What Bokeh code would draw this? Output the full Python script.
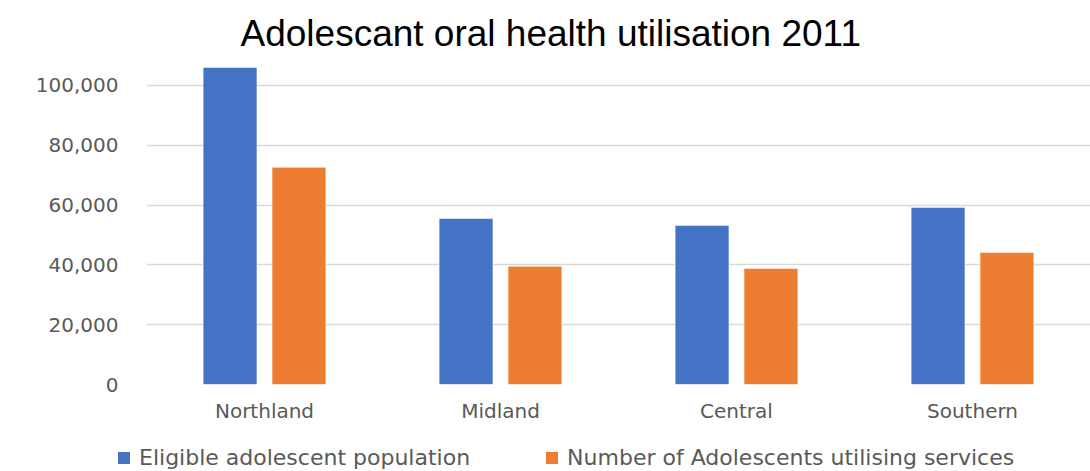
from bokeh.plotting import figure
from bokeh.layouts import column
from bokeh.models import ColumnDataSource, NumeralTickFormatter, Legend, LegendItem, Title
from bokeh.transform import dodge
from bokeh.embed import file_html
from bokeh.resources import INLINE

regions = ["Northland", "Midland", "Central", "Southern"]
eligible = [106000, 55500, 53200, 59200]
utilising = [72600, 39500, 38800, 44100]
series_names = ["Eligible adolescent population", "Number of Adolescents utilising services"]
y_ticks = [0, 20000, 40000, 60000, 80000, 100000]

blue = "#4472C4"
orange = "#ED7D31"
label_font = "DejaVu Sans"
label_color = "#595959"

source = ColumnDataSource(dict(region=regions, eligible=eligible, utilising=utilising))

p = figure(
    x_range=regions, y_range=(0, 110000),
    width=1090, height=435,
    output_backend="svg", toolbar_location=None,
    min_border_left=146, min_border_right=0, min_border_top=55, min_border_bottom=51,
)
p.frame_align = False
p.title = Title(text="Adolescant oral health utilisation 2011", align="left", offset=94,
                text_font="Liberation Sans", text_font_size="37px", text_font_style="normal",
                text_color="#000000", standoff=4)
p.x_range.range_padding = 0

p.vbar(x=dodge("region", -0.146, range=p.x_range), top="eligible", width=0.228, source=source,
       fill_color=blue, line_color="white", line_alpha=0.5, line_width=1)
p.vbar(x=dodge("region", 0.146, range=p.x_range), top="utilising", width=0.228, source=source,
       fill_color=orange, line_color="white", line_alpha=0.5, line_width=1)

p.outline_line_color = None
p.xgrid.grid_line_color = None
p.ygrid.grid_line_color = "#d9d9d9"
p.ygrid.grid_line_width = 1.5

p.yaxis.ticker = y_ticks
p.yaxis.formatter = NumeralTickFormatter(format="0,0")
for ax in (p.xaxis[0], p.yaxis[0]):
    ax.axis_line_color = None
    ax.major_tick_line_color = None
    ax.minor_tick_line_color = None
    ax.major_tick_out = 0
    ax.major_tick_in = 0
    ax.major_label_text_font = label_font
    ax.major_label_text_color = label_color
    ax.major_label_text_font_size = "20px"
p.yaxis.major_label_standoff = 28
p.xaxis.major_label_standoff = 14

# legend strip under the chart; the swatch renderers sit outside this strip's visible range
leg = figure(
    x_range=(0, 1), y_range=(0, 1),
    width=1090, height=36,
    output_backend="svg", toolbar_location=None,
    min_border=0, x_axis_type=None, y_axis_type=None,
)
leg.frame_align = False
leg.outline_line_color = None
leg.xgrid.grid_line_color = None
leg.ygrid.grid_line_color = None
l1 = leg.vbar(x=[5], top=[5], width=0.1, fill_color=blue, line_color=None)
l2 = leg.vbar(x=[5], top=[5], width=0.1, fill_color=orange, line_color=None)

legend = Legend(
    items=[LegendItem(label=series_names[0], renderers=[l1]),
           LegendItem(label=series_names[1], renderers=[l2])],
    orientation="horizontal", location=(116, 1),
    label_text_font=label_font, label_text_font_size="22px", label_text_color=label_color,
    glyph_width=15, glyph_height=15, spacing=74, label_standoff=8,
    border_line_color=None, background_fill_alpha=0, padding=0, margin=0,
)
leg.add_layout(legend, "center")

open("out.html", "w").write(file_html(column(p, leg, spacing=0), INLINE))
